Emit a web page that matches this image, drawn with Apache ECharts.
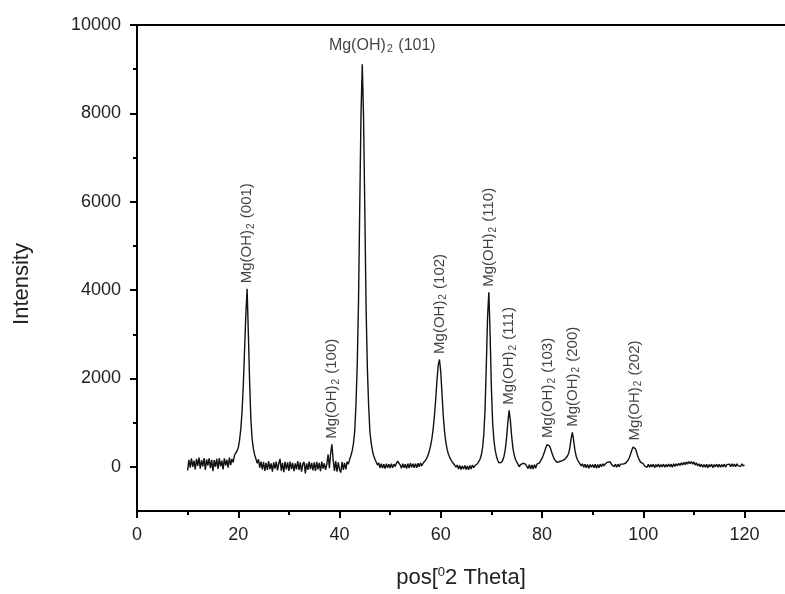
<!DOCTYPE html>
<html>
<head>
<meta charset="utf-8">
<script src="https://cdn.jsdelivr.net/npm/echarts@6/dist/echarts.min.js"></script>
<style>
  html, body { margin: 0; padding: 0; background: #fff; }
  #chart { width: 785px; height: 594px; }
</style>
</head>
<body>
<div id="chart"></div>
<script>
// scan: 10 - 120 deg 2theta, step 0.25
const scanStart = 10;
const scanStep = 0.25;
// intensity, one row = 5 deg
const intensity = [
  -80, 160, -20, 190, 0, 140, -60, 180, 20, 210, -40, 150, 10, 200, -70, 170, 30, 190, -30, 160,
  -100, 150, 0, 180, -50, 200, 10, 140, -60, 190, 30, 160, -20, 210, 40, 180, 100, 260, 230, 360,
  430, 600, 850, 1250, 1850, 2650, 3450, 4030, 3000, 1900, 1050, 620, 400, 270, 230, 80, 170, -20, 120, -60,
  110, -90, 90, -70, 130, -50, 80, -110, 100, -40, 120, -80, 70, 180, -90, 90, -120, 110, -60, 100,
  -90, 120, -50, 90, -100, 80, -60, 130, -70, 100, -110, 60, 110, -150, 80, -70, 120, -50, 90, -80,
  100, -90, 110, -60, 90, -100, 120, -40, 80, -70, 60, 280, -30, 300, 510, 150, -90, 130, -110, 100,
  -60, -130, 110, -70, 90, -60, 110, 60, 170, 250, 360, 520, 800, 1400, 2300, 3700, 5900, 8000, 9110, 7900,
  5800, 3600, 2250, 1400, 800, 540, 370, 250, 170, 110, 40, 90, -20, 70, -30, 60, -40, 70, -20, 60,
  -30, 70, -20, 60, 10, 80, 130, 90, 40, -30, 70, -20, 60, -40, 70, -30, 80, -10, 70, -20,
  70, -20, 80, 0, 90, 20, 80, 110, 150, 200, 270, 360, 480, 640, 860, 1150, 1520, 1950, 2300, 2430,
  2150, 1650, 1150, 800, 560, 400, 290, 220, 160, 110, 70, 40, -10, 40, -50, 30, -60, 20, -50, 30,
  -60, 20, -70, 30, -50, 40, -20, 30, 40, 70, 110, 170, 260, 420, 720, 1300, 2300, 3400, 3950, 3000,
  1800, 1000, 600, 380, 240, 150, 90, 70, 100, 150, 240, 400, 650, 1000, 1280, 1050, 700, 430, 270, 170,
  110, 60, 0, 50, 20, 80, 110, 60, 40, -40, 50, -50, 40, -50, 50, -30, 60, 40, 90, 130,
  190, 260, 340, 430, 500, 530, 470, 390, 300, 220, 160, 120, 100, 90, 120, 140, 140, 150, 170, 200,
  240, 300, 430, 640, 780, 600, 380, 240, 160, 110, 70, 20, 70, -10, 60, -20, 50, -30, 50, -10,
  50, -20, 60, -30, 50, -20, 60, 0, 70, 20, 70, 80, 110, 150, 110, 50, 70, 0, 60, -10,
  60, 0, 60, 20, 60, 60, 80, 110, 150, 210, 290, 380, 450, 470, 400, 300, 210, 150, 100, 70,
  70, 20, 60, -10, 60, -10, 50, 0, 60, -20, 50, 0, 60, -10, 50, 0, 60, -10, 50, 0,
  60, 0, 60, -10, 70, 10, 70, 20, 80, 30, 90, 40, 100, 50, 110, 60, 120, 70, 120, 60,
  110, 40, 90, 20, 70, 0, 60, -10, 50, -10, 60, -20, 50, 0, 60, -20, 50, 0, 60, -10,
  60, -10, 50, 0, 60, -10, 50, 10, 60, 0, 70, 10, 60, 0, 70, 20, 60, 10, 70, 20,
  40
];

// indexed peaks
const peakTheta = [21.75, 38.5, 44.5, 59.75, 69.5, 73.5, 81.25, 86.0, 98.25];
const peakCounts = [4030, 510, 9110, 2430, 3950, 1280, 530, 780, 470];
const peakHkl = ["(001)", "(100)", "(101)", "(102)", "(110)", "(111)", "(103)", "(200)", "(202)"];

// axis ticks
const xTickLabels = [0, 20, 40, 60, 80, 100, 120];
const xMinorTicks = [10, 30, 50, 70, 90, 110];
const yTickLabels = [0, 2000, 4000, 6000, 8000, 10000];
const yMinorTicks = [1000, 3000, 5000, 7000, 9000];

const FONT = "'Liberation Sans', Arial, sans-serif";
const chart = echarts.init(document.getElementById("chart"));

const pattern = intensity.map((v, i) => [scanStart + i * scanStep, v]);

const peakData = peakTheta.map((t, i) => {
  const item = { value: [t, peakCounts[i]], name: peakHkl[i] };
  if (peakHkl[i] === "(101)") {
    // this one is written across, not up
    item.label = {
      rotate: 0,
      align: "center",
      verticalAlign: "bottom",
      distance: 9,
      offset: [20, 0],
      rich: {
        m: { fontSize: 16, fontFamily: FONT, color: "#111", lineHeight: 19 },
        s: { fontSize: 11, fontFamily: FONT, color: "#111", verticalAlign: "bottom", lineHeight: 11, padding: [0, 1, 0, 1] },
      },
    };
  }
  return item;
});

const option = {
  animation: false,
  backgroundColor: "#fff",
  grid: { left: 137, right: 0, top: 25, bottom: 83 },
  xAxis: [
    {
      type: "value",
      min: 0,
      max: 128,
      position: "bottom",
      axisLine: { show: true, onZero: false, lineStyle: { color: "#000", width: 2 } },
      axisTick: { show: true, length: 7, customValues: xTickLabels, lineStyle: { color: "#000", width: 2 } },
      axisLabel: { customValues: xTickLabels, formatter: (v) => String(v), margin: 15, fontSize: 18, fontFamily: FONT, color: "#222" },
      splitLine: { show: false },
      name: "{n|pos[}{sup|0}{n|2 Theta]}",
      nameLocation: "middle",
      nameGap: 55,
      nameTextStyle: {
        rich: {
          n: { fontSize: 22, fontFamily: FONT, color: "#222", lineHeight: 24 },
          sup: { fontSize: 13, fontFamily: FONT, color: "#222", verticalAlign: "top", lineHeight: 13 },
        },
      },
    },
    {
      // top frame line
      type: "value",
      min: 0,
      max: 128,
      position: "top",
      axisLine: { show: true, onZero: false, lineStyle: { color: "#000", width: 2 } },
      axisTick: { show: false },
      axisLabel: { show: false },
      splitLine: { show: false },
    },
    {
      // minor ticks on the bottom axis
      type: "value",
      min: 0,
      max: 128,
      position: "bottom",
      axisLine: { show: false, onZero: false },
      axisTick: { show: true, length: 4, customValues: xMinorTicks, lineStyle: { color: "#000", width: 2 } },
      axisLabel: { show: false },
      splitLine: { show: false },
    },
  ],
  yAxis: [
    {
      type: "value",
      min: -1000,
      max: 10000,
      position: "left",
      axisLine: { show: true, onZero: false, lineStyle: { color: "#000", width: 2 } },
      axisTick: { show: true, length: 7, customValues: yTickLabels, lineStyle: { color: "#000", width: 2 } },
      axisLabel: { customValues: yTickLabels, formatter: (v) => String(v), margin: 16, fontSize: 18, fontFamily: FONT, color: "#222" },
      splitLine: { show: false },
      name: "Intensity",
      nameLocation: "middle",
      nameGap: 104,
      nameTextStyle: { fontSize: 22, fontFamily: FONT, color: "#222", padding: [0, 32, 0, 0] },
    },
    {
      type: "value",
      min: -1000,
      max: 10000,
      position: "left",
      axisLine: { show: false, onZero: false },
      axisTick: { show: true, length: 4, customValues: yMinorTicks, lineStyle: { color: "#000", width: 2 } },
      axisLabel: { show: false },
      splitLine: { show: false },
    },
  ],
  series: [
    {
      name: "XRD",
      type: "line",
      xAxisIndex: 0,
      yAxisIndex: 0,
      data: pattern,
      showSymbol: false,
      symbol: "none",
      sampling: false,
      lineStyle: { color: "#111", width: 1.4 },
      z: 3,
    },
    {
      name: "peaks",
      type: "scatter",
      xAxisIndex: 0,
      yAxisIndex: 0,
      data: peakData,
      symbolSize: 1,
      itemStyle: { color: "rgba(0,0,0,0)" },
      label: {
        show: true,
        position: "top",
        distance: 5,
        rotate: 90,
        align: "left",
        verticalAlign: "middle",
        formatter: (p) => "{m|Mg(OH)}{s|2}{m| " + p.name + "}",
        rich: {
          m: { fontSize: 15, fontFamily: FONT, color: "#111", lineHeight: 18 },
          s: { fontSize: 10, fontFamily: FONT, color: "#111", verticalAlign: "bottom", lineHeight: 10, padding: [0, 1, 0, 1] },
        },
      },
      z: 4,
    },
  ],
};

chart.setOption(option);
</script>
</body>
</html>
